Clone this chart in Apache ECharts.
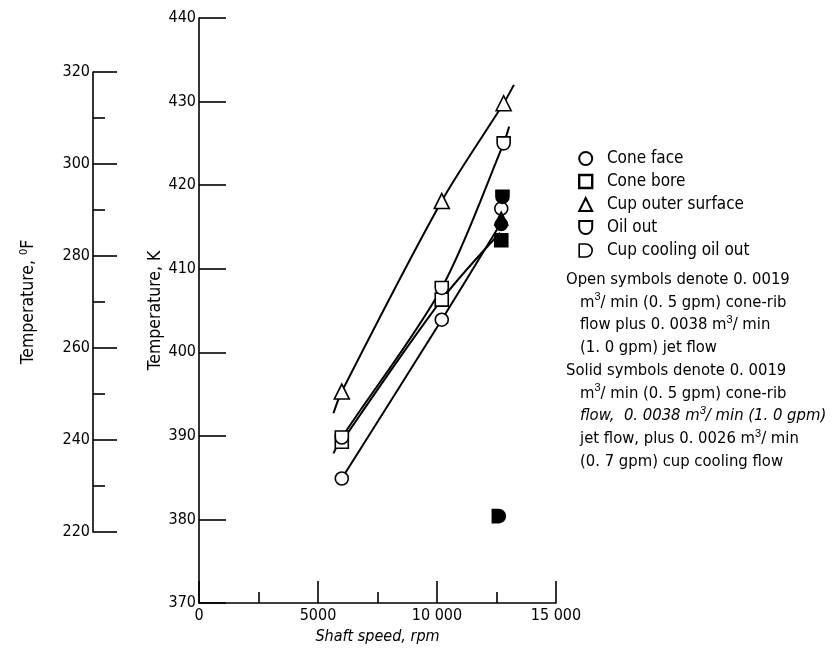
<!DOCTYPE html>
<html lang="en">
<head>
    <meta charset="utf-8">
    <title>Temperature vs shaft speed</title>
    <script src="https://cdn.jsdelivr.net/npm/echarts@6/dist/echarts.min.js"></script>
</head>
<body style="margin:0;background:#fff;">
    <div id="main" style="width:837px;height:655px;"></div>
    <script type="text/javascript">

    // shaft speed (rpm), temperature (K) -- open symbols
    var coneFaceOpen = [[6000, 384.9], [10200, 403.9], [12700, 417.2]];
    var coneBoreOpen = [[6000, 389.3], [10200, 406.3]];
    var cupOuterOpen = [[6000, 395.3], [10200, 418.1], [12800, 429.8]];
    var oilOutOpen = [[6000, 389.8], [10200, 407.7], [12800, 425.0]];

    // solid symbols
    var oilOutSolid = [[12750, 418.6]];
    var cupOuterSolid = [[12700, 416.0]];
    var coneFaceSolid = [[12700, 415.3]];
    var coneBoreSolid = [[12700, 413.4]];
    var cupCoolSolid = [[12600, 380.4]];

    // faired curves
    var cupOuterCurve = [[5650, 392.7], [6000, 395.3], [10200, 418.1], [12800, 429.8], [13230, 432.0]];
    var oilOutCurve = [[5650, 387.9], [6000, 389.8], [10200, 407.7], [12800, 425.0], [13030, 427.0]];
    var coneBoreCurve = [[6000, 389.3], [10200, 406.3], [12650, 414.3]];
    var coneFaceCurve = [[6000, 384.9], [10200, 403.9], [12650, 415.3]];

    var legendNames = ['Cone face', 'Cone bore', 'Cup outer surface', 'Oil out', 'Cup cooling oil out'];

    var noteLines = [
        'Open symbols denote 0. 0019',
        'm{s|3}/ min (0. 5 gpm) cone-rib',
        'flow plus 0. 0038 m{s|3}/ min',
        '(1. 0 gpm) jet flow',
        'Solid symbols denote 0. 0019',
        'm{s|3}/ min (0. 5 gpm) cone-rib',
        '{i|flow,  0. 0038 m}{si|3}{i|/ min (1. 0 gpm)}',
        'jet flow, plus 0. 0026 m{s|3}/ min',
        '(0. 7 gpm) cup cooling flow'
    ];

    var FONT = "'DejaVu Sans Condensed', 'Liberation Sans Narrow', 'Liberation Sans', sans-serif";
    var oilPath = 'path://M0,0 L10,0 L10,5 A5,5 0 0 1 0,5 Z';
    var dPath = 'path://M0,0 L5,0 A5,5 0 0 1 5,10 L0,10 Z';

    var myChart = echarts.init(document.getElementById('main'));

    function thousands(v) {
        var s = String(v);
        if (s.length > 4) {
            s = s.slice(0, s.length - 3) + ' ' + s.slice(s.length - 3);
        }
        return s;
    }

    function curve(data) {
        return {
            type: 'line',
            data: data,
            showSymbol: false,
            smooth: 0.3,
            silent: true,
            z: 2,
            lineStyle: { color: '#000', width: 2 }
        };
    }

    function marks(name, data, symbol, size, solid) {
        return {
            name: name,
            type: 'scatter',
            data: data,
            symbol: symbol,
            symbolSize: size,
            symbolKeepAspect: true,
            z: solid ? 4 : 3,
            itemStyle: {
                color: solid ? '#000' : '#fff',
                borderColor: '#000',
                borderWidth: 1.6,
                opacity: 1
            }
        };
    }

    var axisCommon = {
        axisLine: { show: true, lineStyle: { color: '#000', width: 1.6 } },
        axisTick: { show: true, inside: true, lineStyle: { color: '#000', width: 1.6 } },
        splitLine: { show: false },
        axisLabel: { color: '#000', fontSize: 16, fontFamily: FONT }
    };

    var notes = noteLines.map(function (t, i) {
        var indent = (i === 0 || i === 4) ? 566 : 580;
        return {
            type: 'text',
            left: indent,
            top: 269 + i * 22.75,
            style: {
                text: t,
                fill: '#000',
                font: '16.5px ' + FONT,
                lineHeight: 21,
                rich: {
                    s: { fontSize: 11, lineHeight: 12, verticalAlign: 'top', fill: '#000' },
                    i: { fontStyle: 'italic', fontSize: 16.5, fontFamily: FONT, lineHeight: 21, fill: '#000' },
                    si: { fontStyle: 'italic', fontSize: 11, lineHeight: 12, verticalAlign: 'top', fill: '#000' }
                }
            }
        };
    });

    var option = {
        animation: false,
        textStyle: { fontFamily: FONT, color: '#000' },
        grid: [
            { left: 199, top: 18, width: 357, height: 585 },
            { left: 93, top: 72, width: 30, height: 460 }
        ],
        xAxis: [
            Object.assign({}, axisCommon, {
                gridIndex: 0,
                type: 'value',
                min: 0,
                max: 15000,
                interval: 5000,
                axisTick: { show: true, inside: true, length: 22, lineStyle: { color: '#000', width: 1.6 } },
                minorTick: { show: true, splitNumber: 2, length: 11, lineStyle: { color: '#000', width: 1.6 } },
                axisLabel: { color: '#000', fontSize: 16, fontFamily: FONT, margin: 5, formatter: thousands },
                name: 'Shaft speed, rpm',
                nameLocation: 'middle',
                nameGap: 23,
                nameTextStyle: { color: '#000', fontSize: 16, fontStyle: 'italic', fontFamily: FONT }
            }),
            { gridIndex: 1, type: 'value', show: false, min: 0, max: 1 }
        ],
        yAxis: [
            Object.assign({}, axisCommon, {
                gridIndex: 0,
                type: 'value',
                min: 370,
                max: 440,
                interval: 10,
                axisTick: { show: true, inside: true, length: 27, lineStyle: { color: '#000', width: 1.6 } },
                axisLabel: { color: '#000', fontSize: 16, fontFamily: FONT, margin: 3 },
                name: 'Temperature, K',
                nameLocation: 'middle',
                nameGap: 28,
                nameTextStyle: { color: '#000', fontSize: 17.5, fontFamily: FONT }
            }),
            Object.assign({}, axisCommon, {
                gridIndex: 1,
                type: 'value',
                min: 220,
                max: 320,
                interval: 20,
                axisTick: { show: true, inside: true, length: 24, lineStyle: { color: '#000', width: 1.6 } },
                minorTick: { show: true, splitNumber: 2, length: 12, lineStyle: { color: '#000', width: 1.6 } },
                axisLabel: { color: '#000', fontSize: 16, fontFamily: FONT, margin: 3 },
                name: 'Temperature, {sup|0}F',
                nameLocation: 'middle',
                nameGap: 56,
                nameTextStyle: {
                    color: '#000', fontSize: 17.5, fontFamily: FONT,
                    rich: { sup: { fontSize: 11, lineHeight: 12, verticalAlign: 'top', fontFamily: FONT } }
                }
            })
        ],
        legend: {
            orient: 'vertical',
            left: 573,
            top: 145,
            itemWidth: 13,
            itemHeight: 13,
            itemGap: 6,
            selectedMode: false,
            formatter: function (n) { return '  ' + n; },
            textStyle: { color: '#000', fontSize: 17, fontFamily: FONT },
            data: legendNames
        },
        graphic: notes,
        series: [
            curve(cupOuterCurve),
            curve(oilOutCurve),
            curve(coneBoreCurve),
            curve(coneFaceCurve),
            marks('Cone face', coneFaceOpen, 'circle', 13, false),
            marks('Cone bore', coneBoreOpen, 'rect', 13, false),
            marks('Cup outer surface', cupOuterOpen, 'triangle', 15, false),
            marks('Oil out', oilOutOpen, oilPath, 13, false),
            marks('Cup cooling oil out', cupCoolSolid, dPath, 13, true),
            marks('Oil out', oilOutSolid, oilPath, 13, true),
            marks('Cup outer surface', cupOuterSolid, 'triangle', 13, true),
            marks('Cone face', coneFaceSolid, 'circle', 12, true),
            marks('Cone bore', coneBoreSolid, 'rect', 13, true)
        ]
    };
    // legend key shows the open symbols
    option.legend.data = legendNames.map(function (n) {
        if (n === 'Cup cooling oil out') {
            return { name: n, itemStyle: { color: '#fff', borderColor: '#000', borderWidth: 1.6 } };
        }
        if (n === 'Cone bore') {
            return { name: n, itemStyle: { color: '#fff', borderColor: '#000', borderWidth: 2.4 } };
        }
        return n;
    });
    myChart.setOption(option);
    </script>
</body>
</html>
